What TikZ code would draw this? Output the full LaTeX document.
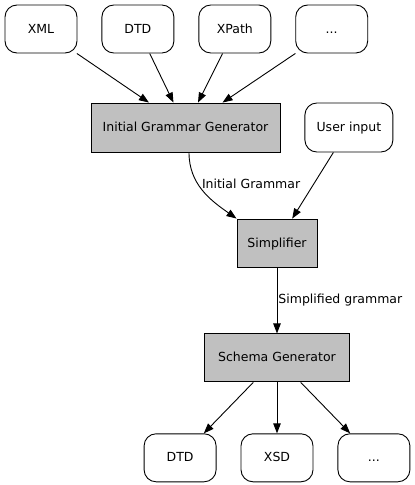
\documentclass[tikz,border=0pt]{standalone}
\usepackage{fontspec}
\setmainfont{DejaVu Sans}
\usepackage{xcolor}
\usepackage{tikz}
\usetikzlibrary{positioning, arrows.meta}

\definecolor{procgray}{HTML}{C0C0C0}
\tikzset{
    data/.style={draw, rounded corners=12pt, minimum width=72pt, minimum height=48pt, inner sep=0pt, text height=10.5pt, text depth=2.5pt},
    proc/.style={draw, fill=procgray, minimum height=48pt, inner sep=0pt, text height=10.5pt, text depth=2.5pt},
    flow/.style={-{Triangle[length=10pt, width=7.5pt]}}
}

\begin{document}
\begin{tikzpicture}[x=1pt, y=1pt, font=\fontsize{12.5}{15}\selectfont, line width=0.9pt]
    \useasboundingbox (0,0) rectangle (415,-485);
    	\node[data] (xml) at (41,-29) {XML};
    	\node[data] (dtd) [right=24pt of xml] {DTD};
    	\node[data] (xpath) [right=24pt of dtd] {XPath};
    	\node[data] (more) [right=24pt of xpath] {...};

    	\node[proc, minimum width=189pt, minimum height=49pt] (igg) at (185.5,-127.5) {Initial Grammar Generator};
    	\node[data, minimum width=88pt, minimum height=49pt] (user) [right=24pt of igg] {User input};
    	\node[proc, minimum width=80pt] (simp) at (277,-243) {Simplifier};
    	\node[proc, minimum width=145pt] (schema) [below=66pt of simp] {Schema Generator};

    	\node[data] (xsd) [below=51pt of schema] {XSD};
    	\node[data] (dtdout) [left=24pt of xsd] {DTD};
    	\node[data] (moreout) [right=24pt of xsd] {...};

    	\path[flow] (xml) edge (igg)
    	 (dtd) edge (igg)
    	 (xpath) edge (igg)
    	 (more) edge (igg)
      (user) edge (simp)
      ([xshift=3.5pt]igg.south) edge[out=-90, in=145] node[right, pos=0.4] {Initial Grammar} (simp.north west)
      (simp) edge node[right, inner sep=1pt] {Simplified grammar} (schema)
      (schema) edge (dtdout)
      (schema) edge (xsd)
      (schema) edge (moreout);
\end{tikzpicture}
\end{document}
